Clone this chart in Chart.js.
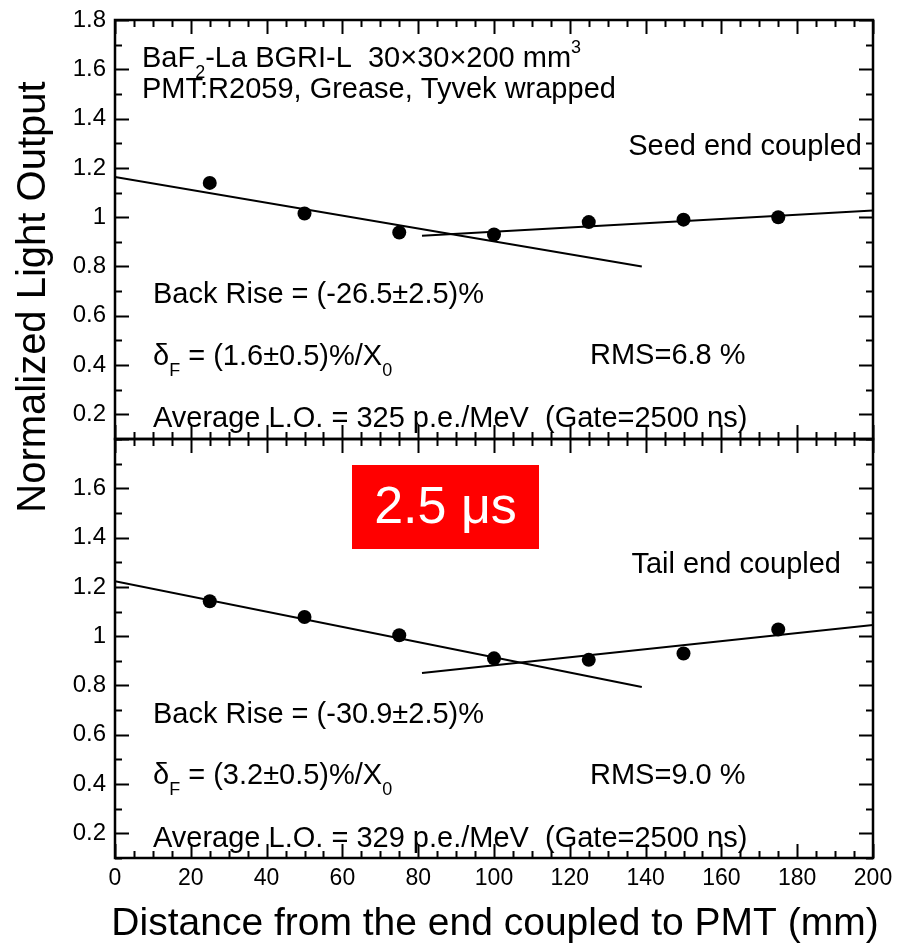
<!DOCTYPE html>
<html>
<head>
<meta charset="utf-8">
<script src="https://cdn.jsdelivr.net/npm/chart.js@4.4.0/dist/chart.umd.min.js"></script>
<style>
html, body { margin: 0; padding: 0; background: #fff; }
canvas { display: block; }
</style>
</head>
<body>
<canvas id="myChart" width="897" height="943"></canvas>
<script>
const FONT = '"Liberation Sans", Arial, sans-serif';

// distance from the end coupled to PMT (mm)
const positions = [25, 50, 75, 100, 125, 150, 175];
// normalized light output
const seedLO = [1.139, 1.015, 0.938, 0.93, 0.98, 0.99, 1.0];
const tailLO = [1.142, 1.078, 1.004, 0.91, 0.904, 0.93, 1.027];

// linear fits (end points)
const seedFrontX = [0, 139];
const seedFrontY = [1.163, 0.8];
const seedBackX = [81, 200];
const seedBackY = [0.925, 1.027];
const tailFrontX = [0, 139];
const tailFrontY = [1.223, 0.794];
const tailBackX = [81, 200];
const tailBackY = [0.851, 1.045];

const xTickValues = [0, 20, 40, 60, 80, 100, 120, 140, 160, 180, 200];
const yTickValuesTop = [0.2, 0.4, 0.6, 0.8, 1, 1.2, 1.4, 1.6, 1.8];
const yTickValuesBottom = [0.2, 0.4, 0.6, 0.8, 1, 1.2, 1.4, 1.6];

const toXY = (xs, ys) => xs.map((x, i) => ({ x: x, y: ys[i] }));

const pointSet = (data, axis) => ({
	data: data,
	yAxisID: axis,
	showLine: false,
	pointRadius: 7,
	pointHoverRadius: 7,
	pointBackgroundColor: '#000',
	pointBorderColor: '#000',
	pointBorderWidth: 0,
});
const fitSet = (data, axis) => ({
	data: data,
	yAxisID: axis,
	showLine: true,
	pointRadius: 0,
	borderColor: '#000',
	borderWidth: 2,
	fill: false,
});

// text with sub/superscript pieces: [text, 'sub'|'sup'|undefined]
function rich(ctx, x, y, parts, size, align) {
	const piece = p => {
		ctx.font = (p[1] ? size * 0.62 : size) + 'px ' + FONT;
		return ctx.measureText(p[0]).width;
	};
	let cx = x;
	if (align === 'right') cx -= parts.reduce((s, p) => s + piece(p), 0);
	for (const p of parts) {
		const w = piece(p);
		const dy = p[1] === 'sub' ? size * 0.38 : p[1] === 'sup' ? -size * 0.5 : 0;
		ctx.fillText(p[0], cx, y + dy);
		cx += w;
	}
}

const framePlugin = {
	id: 'frame',
	afterDatasetsDraw: function (chart) {
		const ctx = chart.ctx;
		const area = chart.chartArea;
		const xs = chart.scales.x;
		const panels = [
			{ scale: chart.scales.yTop, ticks: yTickValuesTop },
			{ scale: chart.scales.yBottom, ticks: yTickValuesBottom },
		];
		ctx.save();
		ctx.strokeStyle = '#000';
		ctx.fillStyle = '#000';

		panels.forEach(p => {
			const s = p.scale;
			ctx.lineWidth = 2.5;
			ctx.strokeRect(area.left, s.top, area.right - area.left, s.bottom - s.top);
			ctx.lineWidth = 2;
			ctx.beginPath();
			for (let i = 1; i <= 18; i++) {
				const y = Math.round(s.getPixelForValue(i / 10)) + 0.5;
				const len = i % 2 === 0 ? 14 : 7;
				ctx.moveTo(area.left, y); ctx.lineTo(area.left + len, y);
				ctx.moveTo(area.right, y); ctx.lineTo(area.right - len, y);
			}
			for (let mm = 0; mm <= 200; mm += 5) {
				const x = Math.round(xs.getPixelForValue(mm)) + 0.5;
				const len = mm % 20 === 0 ? 14 : 7;
				ctx.moveTo(x, s.top); ctx.lineTo(x, s.top + len);
				ctx.moveTo(x, s.bottom); ctx.lineTo(x, s.bottom - len);
			}
			ctx.stroke();

			ctx.font = '24px ' + FONT;
			ctx.textAlign = 'right';
			ctx.textBaseline = 'middle';
			p.ticks.forEach(v => {
				ctx.fillText(v === 1 ? '1' : v.toFixed(1), area.left - 9, s.getPixelForValue(v));
			});
		});

		// x tick labels
		ctx.font = '23px ' + FONT;
		ctx.textAlign = 'center';
		ctx.textBaseline = 'alphabetic';
		xTickValues.forEach(v => {
			ctx.fillText(String(v), xs.getPixelForValue(v), area.bottom + 27);
		});

		// axis titles
		ctx.font = '39px ' + FONT;
		ctx.fillText('Distance from the end coupled to PMT (mm)', 495, 935);
		ctx.save();
		ctx.translate(45, 297);
		ctx.rotate(-Math.PI / 2);
		ctx.font = '40px ' + FONT;
		ctx.fillText('Normalized Light Output', 0, 0);
		ctx.restore();

		// annotations, top panel
		ctx.textAlign = 'left';
		rich(ctx, 142, 67, [['BaF'], ['2', 'sub'], ['-La BGRI-L  30\u00d730\u00d7200 mm'], ['3', 'sup']], 29);
		rich(ctx, 142, 98, [['PMT:R2059, Grease, Tyvek wrapped']], 29);
		rich(ctx, 862, 155, [['Seed end coupled']], 29, 'right');
		rich(ctx, 153, 303, [['Back Rise = (-26.5\u00b12.5)%']], 29);
		rich(ctx, 153, 365, [['\u03b4'], ['F', 'sub'], [' = (1.6\u00b10.5)%/X'], ['0', 'sub']], 29);
		rich(ctx, 590, 364, [['RMS=6.8 %']], 29);
		rich(ctx, 153, 427, [['Average L.O. = 325 p.e./MeV  (Gate=2500 ns)']], 29);

		// annotations, bottom panel
		rich(ctx, 841, 573, [['Tail end coupled']], 29, 'right');
		rich(ctx, 153, 723, [['Back Rise = (-30.9\u00b12.5)%']], 29);
		rich(ctx, 153, 784, [['\u03b4'], ['F', 'sub'], [' = (3.2\u00b10.5)%/X'], ['0', 'sub']], 29);
		rich(ctx, 590, 784, [['RMS=9.0 %']], 29);
		rich(ctx, 153, 847, [['Average L.O. = 329 p.e./MeV  (Gate=2500 ns)']], 29);

		// red label
		ctx.fillStyle = '#ff0000';
		ctx.fillRect(352, 465, 187, 84);
		ctx.fillStyle = '#fff';
		ctx.font = '52px ' + FONT;
		ctx.textAlign = 'center';
		ctx.textBaseline = 'middle';
		ctx.fillText('2.5 \u03bcs', 445.5, 509);
		ctx.restore();
	}
};

const hiddenAxis = {
	grid: { display: false, drawTicks: false },
	border: { display: false },
	ticks: { display: false },
};

const config = {
	type: 'scatter',
	data: {
		datasets: [
			pointSet(toXY(positions, seedLO), 'yTop'),
			fitSet(toXY(seedFrontX, seedFrontY), 'yTop'),
			fitSet(toXY(seedBackX, seedBackY), 'yTop'),
			pointSet(toXY(positions, tailLO), 'yBottom'),
			fitSet(toXY(tailFrontX, tailFrontY), 'yBottom'),
			fitSet(toXY(tailBackX, tailBackY), 'yBottom'),
		],
	},
	options: {
		responsive: false,
		animation: false,
		devicePixelRatio: 1,
		layout: { padding: { left: 115, right: 24, top: 20, bottom: 85 } },
		scales: {
			x: { type: 'linear', min: 0, max: 200, ...hiddenAxis },
			yTop: { type: 'linear', position: 'left', min: 0.1, max: 1.8, stack: 'panels', stackWeight: 1, weight: 2, ...hiddenAxis },
			yBottom: { type: 'linear', position: 'left', min: 0.1, max: 1.8, stack: 'panels', stackWeight: 1, weight: 1, ...hiddenAxis },
		},
		plugins: {
			legend: { display: false },
			tooltip: { enabled: false },
		},
	},
	plugins: [framePlugin],
};

const ctx = document.getElementById('myChart').getContext('2d');
const myChart = new Chart(ctx, config);
</script>
</body>
</html>
